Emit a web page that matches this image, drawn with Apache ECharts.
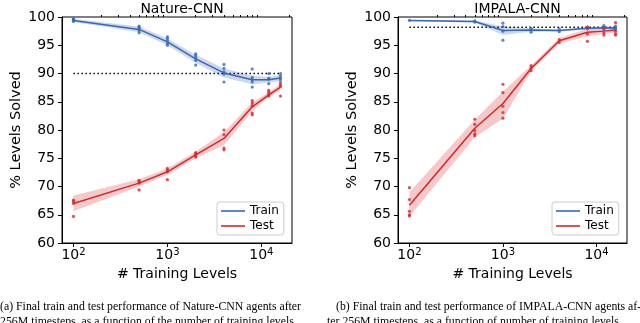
<!DOCTYPE html>
<html>
<head>
<meta charset="utf-8">
<script src="https://cdn.jsdelivr.net/npm/echarts@6/dist/echarts.min.js"></script>
<style>html,body{margin:0;padding:0;background:#fff}#c{width:640px;height:323px}</style>
</head>
<body>
<div id="c"></div>
<script>
const xs = [100, 500, 1000, 2000, 4000, 8000, 12000, 16000];
const titles = ['Nature-CNN', 'IMPALA-CNN'];
const majorTicks = [100, 1000, 10000];
const minorTicks = [200,300,400,500,600,700,800,900,2000,3000,4000,5000,6000,7000,8000,9000,20000];
const refLines = [90, 98.2];

const natureTrainMean = [99.4, 97.8, 95.6, 92.6, 90.1, 88.9, 88.9, 89.2];
const natureTrainLow  = [99.1, 97.3, 95.0, 91.9, 89.3, 88.1, 88.4, 88.6];
const natureTrainHigh = [99.7, 98.3, 96.2, 93.3, 90.9, 89.6, 89.4, 89.8];
const natureTrainPts = [[100,99.2],[100,99.4],[100,99.6],[100,99.7],
  [500,97.2],[500,97.6],[500,97.9],[500,98.2],[500,98.4],
  [1000,95.0],[1000,95.3],[1000,95.8],[1000,96.2],[1000,96.5],
  [2000,91.5],[2000,92.3],[2000,92.8],[2000,93.2],[2000,93.5],
  [4000,88.5],[4000,89.9],[4000,90.3],[4000,90.9],[4000,91.6],
  [8000,87.6],[8000,88.5],[8000,88.9],[8000,89.3],[8000,90.8],
  [12000,88.2],[12000,89.0],[12000,89.2],[12000,90.0],
  [16000,88.9],[16000,89.2],[16000,89.6],[16000,90.0]];

const natureTestMean = [67.0, 70.6, 72.6, 75.6, 78.5, 84.1, 86.2, 87.6];
const natureTestLow  = [65.6, 70.0, 72.1, 75.0, 77.3, 83.3, 85.8, 87.0];
const natureTestHigh = [68.4, 71.3, 73.2, 76.2, 79.6, 84.9, 86.7, 88.2];
const natureTestPts = [[100,64.7],[100,67.0],[100,67.4],[100,67.6],
  [500,69.4],[500,70.6],[500,70.9],[500,71.1],
  [1000,71.2],[1000,72.6],[1000,72.9],[1000,73.2],
  [2000,75.2],[2000,75.5],[2000,75.8],[2000,76.0],
  [4000,76.5],[4000,76.8],[4000,79.2],[4000,80.0],
  [8000,82.7],[8000,83.0],[8000,84.3],[8000,84.8],[8000,85.2],
  [12000,86.0],[12000,86.3],[12000,86.7],[12000,87.0],
  [16000,86.0],[16000,87.7],[16000,88.0],[16000,88.4]];

const impalaTrainMean = [99.4, 99.2, 97.6, 97.7, 97.6, 98.0, 98.1, 98.0];
const impalaTrainLow  = [99.3, 99.0, 96.8, 97.4, 97.4, 97.8, 97.9, 97.8];
const impalaTrainHigh = [99.5, 99.4, 98.3, 98.0, 97.8, 98.2, 98.3, 98.3];
const impalaTrainPts = [[100,99.4],
  [500,99.1],[500,99.3],
  [1000,95.9],[1000,97.5],[1000,98.3],[1000,98.9],
  [2000,97.3],[2000,97.7],[2000,98.0],
  [4000,97.4],[4000,97.9],
  [8000,97.9],[8000,98.2],
  [12000,97.8],[12000,98.2],[12000,98.5],
  [16000,97.8],[16000,98.1],[16000,98.4]];

const impalaTestMean = [66.7, 80.3, 84.7, 90.9, 95.8, 97.3, 97.5, 97.7];
const impalaTestLow  = [64.7, 78.7, 82.0, 90.4, 95.3, 96.6, 97.0, 97.2];
const impalaTestHigh = [69.0, 81.8, 86.8, 91.4, 96.3, 97.9, 98.0, 98.3];
const impalaTestPts = [[100,64.8],[100,65.0],[100,65.6],[100,67.7],[100,69.8],
  [500,79.0],[500,79.3],[500,79.9],[500,81.0],[500,81.9],
  [1000,82.1],[1000,83.1],[1000,84.2],[1000,86.6],[1000,88.1],
  [2000,90.5],[2000,91.0],[2000,91.4],
  [4000,95.5],[4000,96.0],
  [8000,95.7],[8000,97.0],[8000,98.2],
  [12000,96.8],[12000,97.2],[12000,98.0],
  [16000,96.8],[16000,97.0],[16000,97.5],[16000,99.0]];

const captionA = ['(a) Final train and test performance of Nature-CNN agents after',
                  '256M timesteps, as a function of the number of training levels.'];
const captionB = ['(b) Final train and test performance of IMPALA-CNN agents af-',
                  'ter 256M timesteps, as a function of number of training levels.'];

const BLUE = '#3567b9', RED = '#d62728';
const BLUE_BAND = 'rgba(53,103,185,0.25)', RED_BAND = 'rgba(214,39,40,0.25)';
const FONT = 'DejaVu Sans';

const panels = [
  {train:[natureTrainMean,natureTrainLow,natureTrainHigh,natureTrainPts],
   test:[natureTestMean,natureTestLow,natureTestHigh,natureTestPts], ref: refLines[0]},
  {train:[impalaTrainMean,impalaTrainLow,impalaTrainHigh,impalaTrainPts],
   test:[impalaTestMean,impalaTestLow,impalaTestHigh,impalaTestPts], ref: refLines[1]}
];

const grids = [{left:62, top:17, width:230, height:226}, {left:398, top:17, width:229, height:226}];
const XMIN = 75.5, XMAX = 21200;

const chart = echarts.init(document.getElementById('c'), null, {renderer:'canvas'});
const option = {
  animation:false,
  textStyle:{fontFamily:FONT},
  title: titles.map((t,i)=>({text:t, left: grids[i].left + grids[i].width/2, textAlign:'center', top:-3,
    textStyle:{fontSize:14, fontWeight:'normal', color:'#000', fontFamily:FONT}})),
  grid: grids.map(g=>Object.assign({show:true, borderColor:'#000', borderWidth:1, backgroundColor:'transparent'}, g)),
  legend: grids.map((g,i)=>({
    orient:'vertical', left: i===0 ? 217 : 552, top:202,
    data:[{name:'Train'},{name:'Test'}],
    icon:'path://M0,0H24V1.6H0Z', itemWidth:24, itemHeight:14, itemGap:3, itemTextGap:8,
    padding:[3,5,3,4], borderColor:'#ccc', borderWidth:1, borderRadius:3, backgroundColor:'#fff',
    selectedMode:false, textStyle:{fontSize:12, color:'#000', fontFamily:FONT}
  })),
  xAxis: [0,1].map(i=>({
    type:'log', logBase:10, gridIndex:i, min:XMIN, max:XMAX,
    name:'# Training Levels', nameLocation:'middle', nameGap:23,
    nameTextStyle:{fontSize:14, color:'#000', fontFamily:FONT},
    axisLine:{show:true, lineStyle:{color:'#000', width:1}},
    axisTick:{show:true, inside:false, length:4, customValues:majorTicks, lineStyle:{color:'#000'}},
    axisLabel:{customValues:majorTicks, margin:4, color:'#000', fontSize:14, fontFamily:FONT,
      formatter:v=>'10{s|'+Math.round(Math.log10(v))+'}',
      rich:{s:{fontSize:10, padding:[0,0,7,0], fontFamily:FONT, color:'#000'}}},
    splitLine:{show:false}
  })).concat([0,1].map(i=>({
    type:'log', logBase:10, gridIndex:i, min:XMIN, max:XMAX,
    axisLine:{show:false},
    axisTick:{show:true, inside:false, length:2, customValues:minorTicks, lineStyle:{color:'#000'}},
    axisLabel:{show:false}, splitLine:{show:false}
  }))),
  yAxis: [0,1].map(i=>({
    type:'value', gridIndex:i, min:60, max:100, interval:5,
    name:'% Levels Solved', nameLocation:'middle', nameGap:38,
    nameTextStyle:{fontSize:14.5, color:'#000', fontFamily:FONT},
    axisLine:{show:true, lineStyle:{color:'#000', width:1}},
    axisTick:{show:true, inside:false, length:4, lineStyle:{color:'#000'}},
    axisLabel:{margin:7, color:'#000', fontSize:14, fontFamily:FONT},
    splitLine:{show:false}
  })),
  graphic: [],
  series: []
};

function addBand(i, low, high, color){
  option.series.push({type:'custom', xAxisIndex:i, yAxisIndex:i, silent:true, z:1,
    data: xs.map((x,k)=>[x, low[k], high[k]]),
    renderItem:(params, api)=>{
      if (params.dataIndex !== 0) return;
      const top = xs.map((x,k)=>api.coord([x, high[k]]));
      const bot = xs.map((x,k)=>api.coord([x, low[k]])).reverse();
      return {type:'polygon', shape:{points: top.concat(bot)}, style:{fill:color}};
    }});
}
panels.forEach((p,i)=>{
  addBand(i, p.train[1], p.train[2], BLUE_BAND);
  addBand(i, p.test[1], p.test[2], RED_BAND);
  option.series.push({type:'line', xAxisIndex:i, yAxisIndex:i, symbol:'none', silent:true,
    lineStyle:{color:'#000', width:1.5, type:[1.5,2.5]}, data:[[xs[0], p.ref],[xs[xs.length-1], p.ref]], z:2});
  option.series.push({name:'Train', type:'line', xAxisIndex:i, yAxisIndex:i, symbol:'none', color:BLUE,
    lineStyle:{color:BLUE, width:1.5}, data: xs.map((x,k)=>[x, p.train[0][k]]), z:3});
  option.series.push({name:'Test', type:'line', xAxisIndex:i, yAxisIndex:i, symbol:'none', color:RED,
    lineStyle:{color:RED, width:1.5}, data: xs.map((x,k)=>[x, p.test[0][k]]), z:3});
  option.series.push({type:'scatter', xAxisIndex:i, yAxisIndex:i, symbolSize:3.2, silent:true,
    itemStyle:{color:BLUE}, data:p.train[3], z:4});
  option.series.push({type:'scatter', xAxisIndex:i, yAxisIndex:i, symbolSize:3.2, silent:true,
    itemStyle:{color:RED}, data:p.test[3], z:4});
});

const capFont = '11.8px "Liberation Serif"';
[[captionA, 0, 0], [captionB, 336, 327]].forEach(([lines, x1, x2])=>{
  option.graphic.push({type:'text', left:x1, top:301, style:{text:lines[0], font:capFont, fill:'#000'}});
  option.graphic.push({type:'text', left:x2, top:316, style:{text:lines[1], font:capFont, fill:'#000'}});
});

chart.setOption(option);
</script>
</body>
</html>
